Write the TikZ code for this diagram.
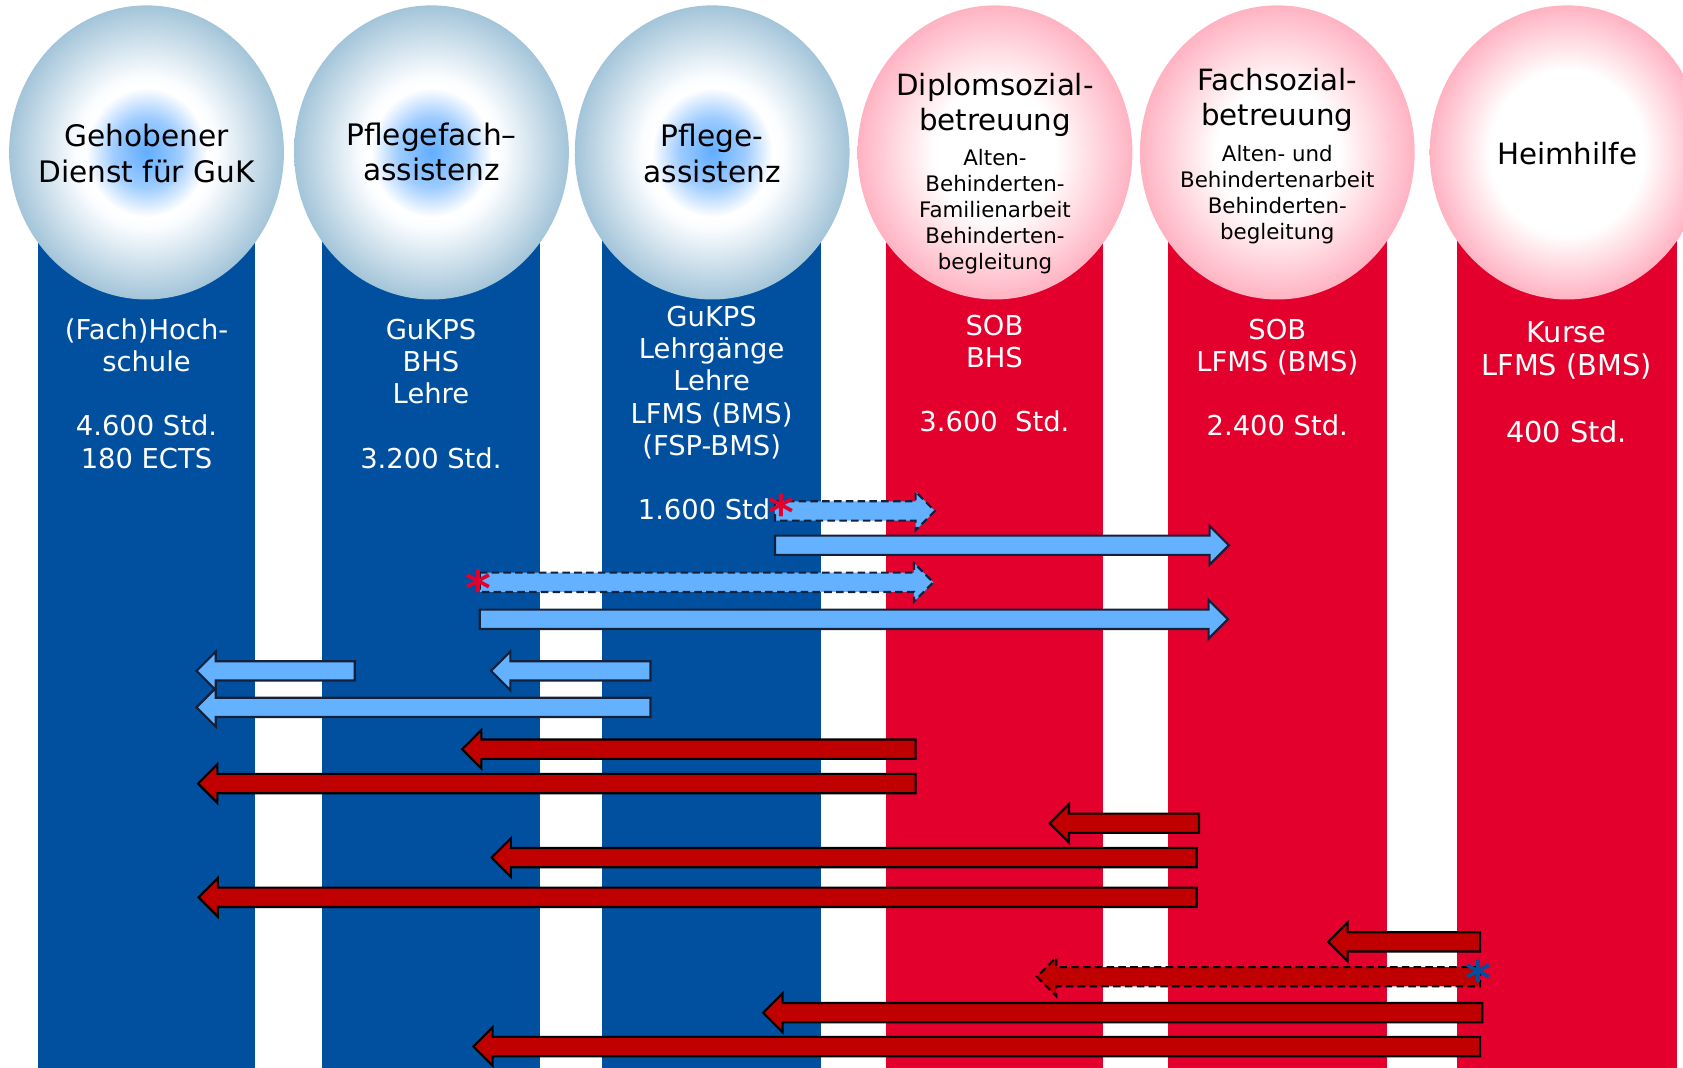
\documentclass[tikz,border=0pt]{standalone}
\usepackage{fontspec}
\setmainfont{DejaVu Sans}
\usetikzlibrary{calc,shapes.geometric}
\definecolor{spalteblau}{HTML}{00509F}
\definecolor{spalterot}{HTML}{E3002D}
\definecolor{pfeilblau}{HTML}{63B1FF}
\definecolor{pfeilrot}{HTML}{C00000}
\definecolor{randblau}{HTML}{15213B}
\pgfdeclareradialshading{kugelblau}{\pgfpoint{0bp}{0bp}}{rgb(0bp)=(0.38,0.68,1); rgb(6bp)=(0.62,0.80,1); rgb(11bp)=(1,1,1); rgb(13bp)=(0.98,0.99,1); rgb(25bp)=(0.64,0.77,0.85); rgb(50bp)=(0.64,0.77,0.85)}
\pgfdeclareradialshading{kugelrot}{\pgfpoint{0bp}{0bp}}{rgb(0bp)=(1,1,1); rgb(11bp)=(1,1,1); rgb(25bp)=(1,0.70,0.76); rgb(50bp)=(1,0.70,0.76)}
\pgfdeclareradialshading{kugelrotweit}{\pgfpoint{0bp}{0bp}}{rgb(0bp)=(1,1,1); rgb(14bp)=(1,1,1); rgb(25bp)=(1,0.70,0.76); rgb(50bp)=(1,0.70,0.76)}
\def\pfeil[#1](#2)(#3){\draw[#1] let \p1=(#2), \p2=(#3), \p3=($(#3)!18pt!(#2)$) in (\x1,\y1+9pt) -- (\x3,\y1+9pt) -- (\x3,\y1+18pt) -- (\x2,\y2) -- (\x3,\y1-18pt) -- (\x3,\y1-9pt) -- (\x1,\y1-9pt) -- cycle;}
\tikzset{
  kugel/.style={ellipse, minimum width=256pt, minimum height=274pt, inner sep=0pt, shade},
  kreistitel/.style={align=center, anchor=north, inner sep=0pt, font=\fontsize{27.3}{32}\selectfont},
  kreistext/.style={align=center, anchor=north, inner sep=0pt, font=\fontsize{19.9}{24.2}\selectfont},
  spaltentext/.style={text=white, align=center, anchor=north, inner sep=0pt, font=\fontsize{25.5}{30}\selectfont},
  blaupfeil/.style={fill=pfeilblau, draw=randblau, line width=2pt},
  rotpfeil/.style={fill=pfeilrot, draw=black, line width=2pt},
  gestrichelt/.style={dash pattern=on 7pt off 4pt},
  stern/.style={anchor=base, inner sep=0pt, font=\fontsize{46}{46}\selectfont\bfseries}
}
\begin{document}
\begin{tikzpicture}[x=1pt,y=-1pt]
		%%%%% START %%%%%
		\useasboundingbox (0,0) rectangle (1568,995);
		\clip (0,0) rectangle (1568,995);
		
		% Saeulen
		\fill[spalteblau] (35,200) rectangle (238,995);
		\fill[spalteblau] (300,200) rectangle (503,995);
		\fill[spalteblau] (561,200) rectangle (765,995);
		\fill[spalterot] (825,200) rectangle (1028,995);
		\fill[spalterot] (1088,200) rectangle (1292,995);
		\fill[spalterot] (1357,200) rectangle (1562,995);
		
		% Kugeln
		\node[kugel, shading=kugelblau] (k1) at (136.5,142) {};
		\node[kugel, shading=kugelblau] (k2) at (402,142) {};
		\node[kugel, shading=kugelblau] (k3) at (663.5,142) {};
		\node[kugel, shading=kugelrot] (k4) at (927,142) {};
		\node[kugel, shading=kugelrot] (k5) at (1190,142) {};
		\node[kugel, shading=kugelrotweit] (k6) at (1460,142) {};
		
		\node[kreistitel, font=\fontsize{27.6}{33}\selectfont] (t1) at (136.5,113.4) {\strut Gehobener\\Dienst für GuK};
		\node[kreistitel, font=\fontsize{27.6}{33}\selectfont] (t2) at (402,112.2) {\strut Pflegefach–\\assistenz};
		\node[kreistitel, font=\fontsize{27.6}{33}\selectfont] (t3) at (663.5,113.4) {\strut Pflege-\\assistenz};
		\node[kreistitel] (t4) at (927,66.7) {\strut Diplomsozial-\\betreuung};
		\node[kreistext] (u4) at (927,137.5) {\strut Alten-\\Behinderten-\\Familienarbeit\\Behinderten-\\begleitung};
		\node[kreistitel] (t5) at (1190,62.1) {\strut Fachsozial-\\betreuung};
		\node[kreistext] (u5) at (1190,133.1) {\strut Alten- und\\Behindertenarbeit\\Behinderten-\\begleitung};
		\node[kreistitel] (t6) at (1460,130.7) {\strut Heimhilfe};
		
		% Ausbildungen
		\node[spaltentext] (s1) at (136.5,295) {\strut(Fach)Hoch-\\schule\\[30pt]4.600 Std.\\180 ECTS};
		\node[spaltentext] (s2) at (401.5,295) {\strut GuKPS\\BHS\\Lehre\\[30pt]3.200 Std.};
		\node[spaltentext] (s3) at (663,283) {\strut GuKPS\\Lehrgänge\\Lehre\\LFMS (BMS)\\(FSP-BMS)\\[30pt]1.600 Std\hspace*{14pt}};
		\node[spaltentext] (s4) at (926.5,291) {\strut SOB\\BHS\\[30pt]3.600\ \ Std.};
		\node[spaltentext] (s5) at (1190,295) {\strut SOB\\LFMS (BMS)\\[30pt]2.400 Std.};
		\node[spaltentext, font=\fontsize{26.8}{31}\selectfont] (s6) at (1459.5,297.3) {\strut Kurse\\LFMS (BMS)\\[31pt]400 Std.};
		
		% Pfeile blau
		\coordinate (b1a) at (722,476);   \coordinate (b1b) at (871,476);
		\coordinate (b2a) at (722,508);   \coordinate (b2b) at (1145,508);
		\coordinate (b3a) at (447,542.5); \coordinate (b3b) at (869.5,542.5);
		\coordinate (b4a) at (447,577);   \coordinate (b4b) at (1144,577);
		\coordinate (b5a) at (330.5,625); \coordinate (b5b) at (183,625);
		\coordinate (b6a) at (606,625);   \coordinate (b6b) at (457.5,625);
		\coordinate (b7a) at (606,659);   \coordinate (b7b) at (183,659);
		\pfeil[blaupfeil, gestrichelt](b1a)(b1b)
		\pfeil[blaupfeil](b2a)(b2b)
		\pfeil[blaupfeil, gestrichelt](b3a)(b3b)
		\pfeil[blaupfeil](b4a)(b4b)
		\pfeil[blaupfeil](b5a)(b5b)
		\pfeil[blaupfeil](b6a)(b6b)
		\pfeil[blaupfeil](b7a)(b7b)
		
		% Pfeile rot
		\coordinate (r1a) at (853,698);    \coordinate (r1b) at (430.5,698);
		\coordinate (r2a) at (853,730);    \coordinate (r2b) at (184.5,730);
		\coordinate (r3a) at (1117,767);   \coordinate (r3b) at (978,767);
		\coordinate (r4a) at (1115,799);   \coordinate (r4b) at (458,799);
		\coordinate (r5a) at (1115,836);   \coordinate (r5b) at (185,836);
		\coordinate (r6a) at (1379,877.5); \coordinate (r6b) at (1237.5,877.5);
		\coordinate (r7a) at (1379,910);   \coordinate (r7b) at (966,910);
		\coordinate (r8a) at (1381,943.5); \coordinate (r8b) at (711,943.5);
		\coordinate (r9a) at (1379,975);   \coordinate (r9b) at (441,975);
		\pfeil[rotpfeil](r1a)(r1b)
		\pfeil[rotpfeil](r2a)(r2b)
		\pfeil[rotpfeil](r3a)(r3b)
		\pfeil[rotpfeil](r4a)(r4b)
		\pfeil[rotpfeil](r5a)(r5b)
		\pfeil[rotpfeil](r6a)(r6b)
		\pfeil[rotpfeil, gestrichelt](r7a)(r7b)
		\pfeil[rotpfeil](r8a)(r8b)
		\pfeil[rotpfeil](r9a)(r9b)
		
		% Sterne
		\node[stern, text=spalterot] (st1) at (728,494.5) {*};
		\node[stern, text=spalterot] (st2) at (446,565) {*};
		\node[stern, text=spalteblau] (st3) at (1377.5,928) {*};
		%%%%% END %%%%%
\end{tikzpicture}
\end{document}
